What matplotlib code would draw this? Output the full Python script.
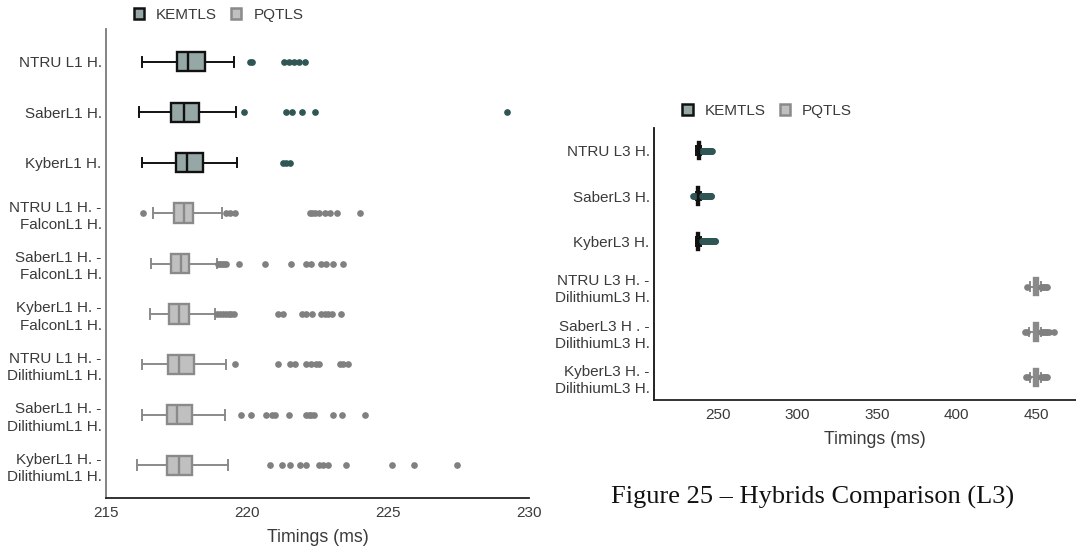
import matplotlib
matplotlib.use("Agg")
import matplotlib.pyplot as plt
from matplotlib.patches import Patch

plt.rcParams['font.family'] = ['Liberation Sans', 'DejaVu Sans']

# ---------------- Left panel (L1) data ----------------
left_labels = ["NTRU L1 H.", "SaberL1 H.", "KyberL1 H.",
               "NTRU L1 H. -\nFalconL1 H.", "SaberL1 H. -\nFalconL1 H.", "KyberL1 H. -\nFalconL1 H.",
               "NTRU L1 H. -\nDilithiumL1 H.", "SaberL1 H. -\nDilithiumL1 H.", "KyberL1 H. -\nDilithiumL1 H."]
left_group = ["KEMTLS", "KEMTLS", "KEMTLS", "PQTLS", "PQTLS", "PQTLS", "PQTLS", "PQTLS", "PQTLS"]
left_whislo = [216.26, 216.18, 216.29, 216.66, 216.60, 216.55, 216.29, 216.26, 216.11]
left_q1 = [217.51, 217.32, 217.48, 217.40, 217.29, 217.24, 217.20, 217.15, 217.16]
left_med = [217.92, 217.75, 217.86, 217.77, 217.65, 217.60, 217.60, 217.53, 217.58]
left_q3 = [218.52, 218.31, 218.45, 218.07, 217.96, 217.93, 218.13, 218.05, 218.06]
left_whishi = [219.53, 219.61, 219.64, 219.10, 218.93, 218.88, 219.27, 219.23, 219.34]
left_fliers = [
    [220.10, 220.18, 221.30, 221.50, 221.68, 221.86, 222.05],
    [219.90, 221.37, 221.61, 221.96, 222.42, 229.22],
    [221.28, 221.40, 221.52],
    [216.32, 219.26, 219.38, 219.57, 222.22, 222.32, 222.42, 222.57, 222.75, 222.93, 223.18, 224.01],
    [218.98, 219.05, 219.12, 219.20, 219.27, 219.70, 220.64, 221.56, 222.08, 222.26, 222.61, 222.81,
     223.06, 223.40],
    [218.95, 219.05, 219.15, 219.25, 219.35, 219.45, 219.55, 221.10, 221.28, 221.96, 222.08, 222.30,
     222.63, 222.75, 222.87, 223.00, 223.34],
    [219.56, 221.10, 221.52, 221.70, 222.08, 222.26, 222.44, 222.57, 223.30, 223.42, 223.59],
    [219.77, 220.13, 220.67, 220.89, 221.00, 221.48, 222.08, 222.20, 222.28, 222.38, 223.06, 223.36,
     224.18],
    [220.83, 221.23, 221.53, 221.89, 222.08, 222.54, 222.69, 222.88, 223.51, 225.13, 225.92, 227.44],
]
left_xticks = [215, 220, 225, 230]

# ---------------- Right panel (L3) data ----------------
right_labels = ["NTRU L3 H.", "SaberL3 H.", "KyberL3 H.",
                "NTRU L3 H. -\nDilithiumL3 H.", "SaberL3 H . -\nDilithiumL3 H.", "KyberL3 H. -\nDilithiumL3 H."]
right_group = ["KEMTLS", "KEMTLS", "KEMTLS", "PQTLS", "PQTLS", "PQTLS"]
right_whislo = [236.5, 236.3, 236.5, 446.0, 445.5, 446.0]
right_q1 = [237.5, 237.3, 237.3, 448.8, 448.6, 448.8]
right_med = [238.1, 237.9, 237.8, 449.8, 449.8, 449.8]
right_q3 = [238.7, 238.5, 238.5, 450.8, 451.0, 450.8]
right_whishi = [239.7, 239.5, 239.7, 452.7, 452.7, 452.7]
right_fliers = [
    [240.0, 240.5, 241.0, 241.5, 242.0, 242.5, 243.0, 243.5, 244.0, 244.5, 245.0, 245.5, 246.0, 246.5],
    [234.5, 235.0, 235.5, 240.0, 240.5, 241.0, 241.5, 242.0, 242.5, 243.0, 243.5, 244.0, 244.5, 245.0,
     245.5, 246.0],
    [240.0, 240.5, 241.0, 241.5, 242.0, 242.5, 243.0, 243.5, 244.0, 244.5, 245.0, 245.5, 246.0, 246.5,
     247.0, 247.5, 248.0, 248.5],
    [444.0, 453.0, 454.0, 455.0, 456.0, 457.0],
    [443.0, 444.0, 453.0, 454.0, 455.0, 456.0, 457.0, 458.0, 461.0],
    [443.5, 444.5, 453.0, 454.0, 455.0, 456.0, 457.0],
]
right_xticks = [250, 300, 350, 400, 450]

xlabel_text = "Timings (ms)"
caption_text = "Figure 25 \u2013 Hybrids Comparison (L3)"

# ---------------- Styles ----------------
style = {
    "KEMTLS": dict(face="#95a8a6", edge="#111111", flier="#2f5654"),
    "PQTLS": dict(face="#c0c0c0", edge="#8a8a8a", flier="#808080"),
}
TXT = "#3a3a3a"


def draw_panel(ax, labels, groups, wlo, q1, med, q3, whi, fliers, xticks, xlim, ylim, left_spine_color):
    n = len(labels)
    for i in range(n):
        st = style[groups[i]]
        stats = [dict(med=med[i], q1=q1[i], q3=q3[i], whislo=wlo[i], whishi=whi[i], fliers=fliers[i])]
        ax.bxp(stats, positions=[i], widths=0.38, vert=False, patch_artist=True,
               boxprops=dict(facecolor=st["face"], edgecolor=st["edge"], linewidth=1.7),
               medianprops=dict(color=st["edge"], linewidth=1.7),
               whiskerprops=dict(color=st["edge"], linewidth=1.4),
               capprops=dict(color=st["edge"], linewidth=1.4),
               flierprops=dict(marker="o", markersize=3.8, markerfacecolor=st["flier"],
                               markeredgecolor=st["flier"], linestyle="none"),
               manage_ticks=False)
    ax.set_yticks(range(n))
    ax.set_yticklabels(labels, fontsize=11, color=TXT, linespacing=1.3, ha="right")
    ax.set_ylim(*ylim)
    ax.set_xlim(*xlim)
    ax.set_xticks(xticks)
    ax.set_xticklabels([str(t) for t in xticks], fontsize=11, color=TXT)
    ax.tick_params(axis="y", length=0, pad=3.2)
    ax.tick_params(axis="x", length=0, pad=5.5)
    ax.set_xlabel(xlabel_text, fontsize=12.8, color=TXT, labelpad=7)
    for s in ("top", "right"):
        ax.spines[s].set_visible(False)
    ax.spines["left"].set_color(left_spine_color)
    ax.spines["left"].set_linewidth(1.3)
    ax.spines["bottom"].set_color("#222222")
    ax.spines["bottom"].set_linewidth(1.3)


fig = plt.figure(figsize=(10.76, 5.54), dpi=100)

axL = fig.add_axes([106 / 1076, 1 - 498 / 554, 423 / 1076, 469 / 554])
draw_panel(axL, left_labels, left_group, left_whislo, left_q1, left_med, left_q3, left_whishi,
           left_fliers, left_xticks, (215, 230), (8.65, -0.65), "#7a7a7a")

# right axes extends past the figure edge (clipped, as in the reference)
axR = fig.add_axes([654 / 1076, 1 - 400 / 554, 442 / 1076, 272 / 554])
draw_panel(axR, right_labels, right_group, right_whislo, right_q1, right_med, right_q3, right_whishi,
           right_fliers, right_xticks, (210, 487.5), (5.5, -0.5), "#111111")

handles = [Patch(facecolor=style[g]["face"], edgecolor=style[g]["edge"], linewidth=1.8, label=g)
           for g in ("KEMTLS", "PQTLS")]
for ax, xa, ya in ((axL, 0.266, 1 + 14 / 469), (axR, 0.256, 1 + 17 / 272)):
    leg = ax.legend(handles=handles, loc="center", bbox_to_anchor=(xa, ya), ncol=2, frameon=False,
                    fontsize=11, handlelength=0.68, handleheight=0.68, handletextpad=0.8,
                    columnspacing=0.9, borderaxespad=0)
    for t in leg.get_texts():
        t.set_color(TXT)

fig.text(813 / 1076, 1 - 504 / 554, caption_text, ha="center", va="baseline",
         family=["Liberation Serif", "DejaVu Serif"], fontsize=19, color="#111111")

fig.savefig("out.png", dpi=100)
